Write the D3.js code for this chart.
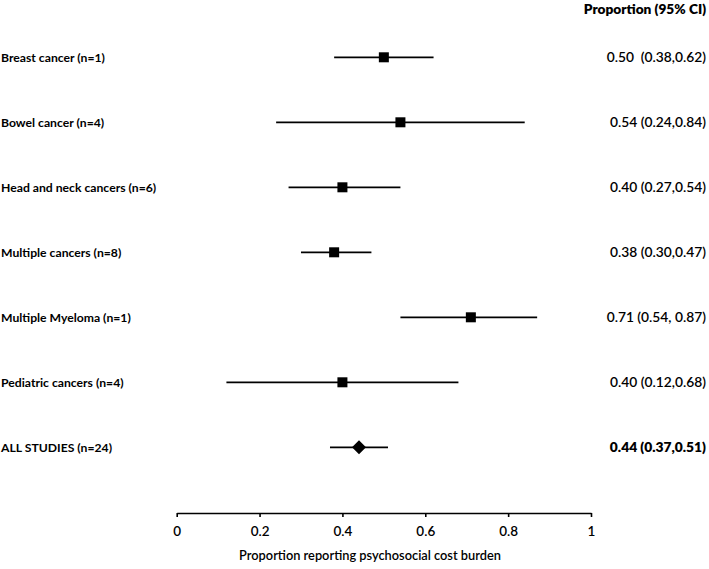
<!DOCTYPE html>
<html>
<head>
<meta charset="utf-8">
<script src="https://cdn.jsdelivr.net/npm/d3@7"></script>
<style>
  body { margin: 0; background: #fff; }
  text { font-family: Lato, "Open Sans", sans-serif; fill: #000; }
</style>
</head>
<body>
<script>
// forest plot data
let groups = ['Breast cancer (n=1)', 'Bowel cancer (n=4)', 'Head and neck cancers (n=6)',
    'Multiple cancers (n=8)', 'Multiple Myeloma (n=1)', 'Pediatric cancers (n=4)', 'ALL STUDIES (n=24)'];
let estimates = [0.50, 0.54, 0.40, 0.38, 0.71, 0.40, 0.44];
let lower = [0.38, 0.24, 0.27, 0.30, 0.54, 0.12, 0.37];
let upper = [0.62, 0.84, 0.54, 0.47, 0.87, 0.68, 0.51];
let ciLabels = ['0.50  (0.38,0.62)', '0.54 (0.24,0.84)', '0.40 (0.27,0.54)', '0.38 (0.30,0.47)',
    '0.71 (0.54, 0.87)', '0.40 (0.12,0.68)', '0.44 (0.37,0.51)'];
let tickValues = [0, 0.2, 0.4, 0.6, 0.8, 1];
let tickLabels = ['0', '0.2', '0.4', '0.6', '0.8', '1'];

let svgWidth = 709, svgHeight = 569;
let rows = groups.map((g, i) => ({
    name: g, est: estimates[i], lo: lower[i], hi: upper[i], ci: ciLabels[i], total: i === groups.length - 1
}));

let svg = d3.select('body').append('svg')
    .attr('width', svgWidth).attr('height', svgHeight)

let xScale = d3.scaleLinear().domain([0, 1]).range([176.7, 591])
let yScale = d3.scalePoint().domain(groups).range([57.3, 447.3])

// axis
let xAxis = d3.axisBottom(xScale)
    .tickValues(tickValues)
    .tickFormat((d, i) => tickLabels[i])
    .tickSize(4)
    .tickSizeOuter(0)
    .tickPadding(9)

let axisG = svg.append('g').attr('transform', 'translate(0,513)').call(xAxis)
axisG.select('.domain').attr('stroke', '#000').attr('stroke-width', 1.6)
axisG.selectAll('.tick line').attr('stroke', '#000').attr('stroke-width', 1.6)
axisG.selectAll('.tick text').style('font-size', '13.5px').style('font-weight', 600)
    .style('font-family', 'Lato, sans-serif').attr('fill', '#000')

svg.append('text')
    .attr('x', 370).attr('y', 560)
    .attr('text-anchor', 'middle')
    .style('font-size', '12.8px').style('font-weight', 600)
    .text('Proportion reporting psychosocial cost burden')

// CI lines
svg.selectAll('line.ci')
    .data(rows)
    .enter()
    .append('line')
    .attr('class', 'ci')
    .attr('x1', d => xScale(d.lo))
    .attr('x2', d => xScale(d.hi))
    .attr('y1', d => yScale(d.name))
    .attr('y2', d => yScale(d.name))
    .attr('stroke', '#000')
    .attr('stroke-width', 1.7)

// squares for subgroups
let sq = 10;
svg.selectAll('rect.est')
    .data(rows.filter(d => !d.total))
    .enter()
    .append('rect')
    .attr('class', 'est')
    .attr('x', d => xScale(d.est) - sq / 2)
    .attr('y', d => yScale(d.name) - sq / 2)
    .attr('width', sq).attr('height', sq)
    .attr('fill', '#000')

// diamond for pooled estimate
svg.selectAll('path.pooled')
    .data(rows.filter(d => d.total))
    .enter()
    .append('path')
    .attr('class', 'pooled')
    .attr('d', d => {
        let cx = xScale(d.est), cy = yScale(d.name);
        return 'M' + (cx - 7) + ',' + cy + 'L' + cx + ',' + (cy - 7) + 'L' + (cx + 7) + ',' + cy + 'L' + cx + ',' + (cy + 7) + 'Z'
    })
    .attr('fill', '#000')

// left labels
svg.selectAll('text.group')
    .data(rows)
    .enter()
    .append('text')
    .attr('class', 'group')
    .attr('x', 1)
    .attr('y', d => yScale(d.name))
    .attr('dy', '0.35em')
    .style('font-size', '12.2px').style('font-weight', 700)
    .text(d => d.name)

// right column
svg.append('text')
    .attr('x', 706).attr('y', 14)
    .attr('text-anchor', 'end')
    .style('font-size', '13.7px').style('font-weight', 800)
    .text('Proportion (95% CI)')

svg.selectAll('text.ci')
    .data(rows)
    .enter()
    .append('text')
    .attr('class', 'ci')
    .attr('x', 706)
    .attr('y', d => yScale(d.name))
    .attr('dy', '0.35em')
    .attr('text-anchor', 'end')
    .style('white-space', 'pre')
    .style('font-size', '13.8px').style('font-weight', d => d.total ? 800 : 600)
    .text(d => d.ci)
</script>
</body>
</html>
